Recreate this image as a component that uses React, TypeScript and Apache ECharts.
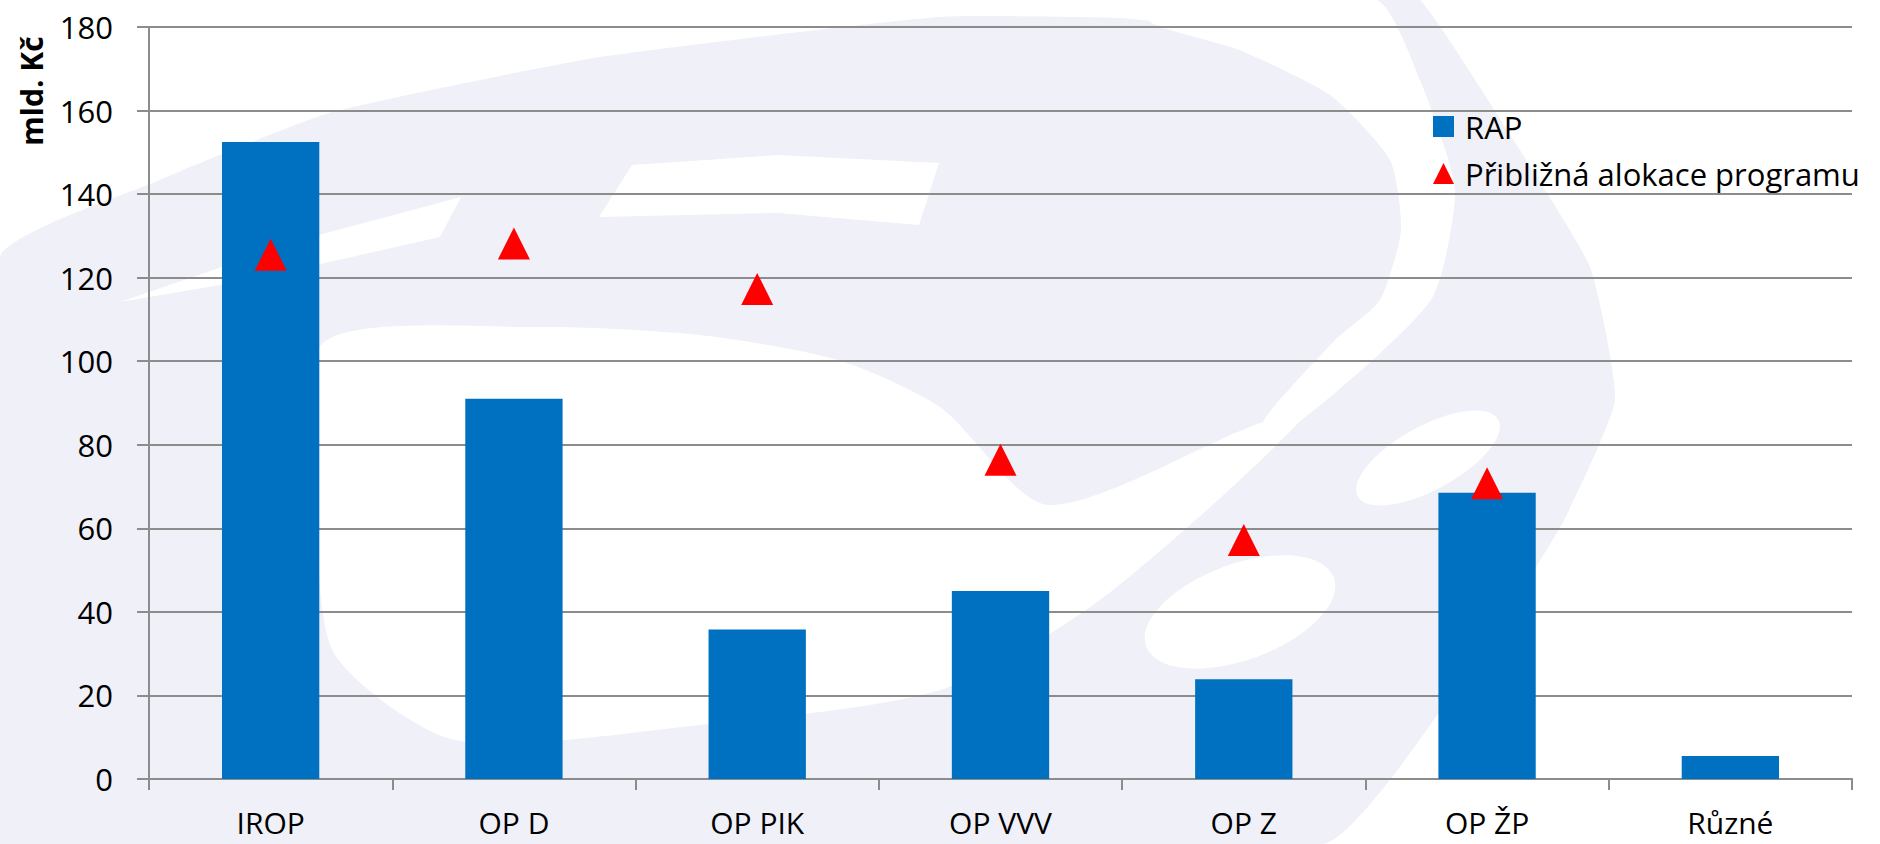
import React, { useEffect, useRef } from "react";
import * as echarts from "echarts";

const categories = ["IROP", "OP D", "OP PIK", "OP VVV", "OP Z", "OP ŽP", "Různé"];
const rapValues = [152.5, 91.0, 35.8, 45.0, 23.9, 68.5, 5.5];
const allocationValues: (number | null)[] = [125.5, 128.2, 117.3, 76.4, 57.2, 70.8, null];
const seriesNames = ["RAP", "Přibližná alokace programu"];
const yAxisTitle = "mld. Kč";

const LAV = "#eff0f8";
const WHITE = "#ffffff";
const FONT = "Open Sans";

export default function App() {
  const ref = useRef<HTMLDivElement>(null);

  useEffect(() => {
    if (!ref.current) return;
    const chart = echarts.init(ref.current, null, { renderer: "svg" });

    const watermark: any[] = [
      {
        type: "polygon",
        z: -10,
        shape: {
          smooth: 0.15,
          points: [
            [0, 257], [160, 180], [329, 113], [600, 57], [940, 17], [1120, 18], [1250, 30],
            [1377, 0], [1420, 0], [1509, 133], [1590, 267], [1615, 400], [1563, 522],
            [1479, 655], [1323, 844], [0, 844],
          ],
        },
        style: { fill: LAV },
      },
      {
        type: "polygon",
        z: -9,
        shape: {
          smooth: 0.2,
          points: [
            [1180, 0], [1377, 0], [1420, 80], [1455, 190], [1431, 300], [1299, 422],
            [1263, 422], [1335, 340], [1380, 300], [1401, 230], [1390, 160], [1330, 95],
            [1239, 50], [1150, 22],
          ],
        },
        style: { fill: WHITE },
      },
      {
        type: "polygon",
        z: -9,
        shape: {
          smooth: 0.25,
          points: [
            [323, 343], [539, 327], [700, 335], [838, 360], [940, 407], [1048, 505],
            [1263, 422], [1299, 422], [1100, 600], [940, 690], [700, 725], [455, 740],
            [335, 655], [317, 522],
          ],
        },
        style: { fill: WHITE },
      },
      {
        type: "polygon",
        z: -9,
        shape: { points: [[120, 302], [300, 240], [461, 197], [440, 237], [250, 280]] },
        style: { fill: WHITE },
      },
      {
        type: "polygon",
        z: -9,
        shape: { points: [[632, 165], [778, 155], [939, 163], [919, 225], [778, 213], [599, 217]] },
        style: { fill: WHITE },
      },
      {
        type: "ellipse",
        z: -9,
        x: 1240,
        y: 612,
        rotation: 0.35,
        shape: { cx: 0, cy: 0, rx: 100, ry: 48 },
        style: { fill: WHITE },
      },
      {
        type: "ellipse",
        z: -9,
        x: 1428,
        y: 458,
        rotation: 0.5,
        shape: { cx: 0, cy: 0, rx: 80, ry: 32 },
        style: { fill: WHITE },
      },
    ];

    chart.setOption({
      animation: false,
      backgroundColor: "#ffffff",
      textStyle: { fontFamily: FONT },
      grid: { left: 149, right: 28, top: 27, bottom: 65, containLabel: false },
      legend: {
        orient: "vertical",
        left: 1433,
        top: 111,
        padding: 0,
        itemWidth: 21,
        itemHeight: 21,
        itemGap: 16,
        selectedMode: false,
        textStyle: { fontFamily: FONT, fontSize: 31, color: "#000", padding: [0, 0, 0, 6] },
        data: [
          { name: seriesNames[0], icon: "rect" },
          { name: seriesNames[1], icon: "triangle", itemStyle: { color: "#ff0000", opacity: 1 } },
        ],
      },
      graphic: [
        ...watermark,
        {
          type: "text",
          x: 31,
          y: 91,
          rotation: Math.PI / 2,
          style: {
            text: yAxisTitle,
            font: `bold 30px "${FONT}"`,
            fill: "#000",
            textAlign: "center",
            textVerticalAlign: "middle",
            align: "center",
            verticalAlign: "middle",
          },
        },
      ],
      xAxis: {
        type: "category",
        data: categories,
        axisLine: { show: true, lineStyle: { color: "#8c8c8c", width: 2 } },
        axisTick: { show: true, length: 11, lineStyle: { color: "#8c8c8c", width: 2 } },
        axisLabel: { color: "#000", fontSize: 30, lineHeight: 30, fontFamily: FONT, margin: 28 },
        splitLine: { show: false },
      },
      yAxis: {
        type: "value",
        min: 0,
        max: 180,
        interval: 20,
        axisLine: { show: true, lineStyle: { color: "#8c8c8c", width: 2 } },
        axisTick: { show: true, length: 12, lineStyle: { color: "#8c8c8c", width: 2 } },
        axisLabel: { color: "#000", fontSize: 31, fontFamily: FONT, margin: 36 },
        splitLine: { show: true, lineStyle: { color: "#8c8c8c", width: 2 } },
      },
      series: [
        {
          name: seriesNames[0],
          type: "bar",
          data: rapValues,
          barWidth: "40%",
          itemStyle: { color: "#0070c0" },
        },
        {
          name: seriesNames[1],
          type: "scatter",
          data: allocationValues,
          symbol: "triangle",
          symbolSize: [32, 32],
          itemStyle: { color: "#ff0000", opacity: 1 },
          z: 5,
        },
      ],
    });

    return () => chart.dispose();
  }, []);

  return (
    <div
      ref={ref}
      style={{ position: "fixed", left: 0, top: 0, width: 1880, height: 844 }}
    />
  );
}
